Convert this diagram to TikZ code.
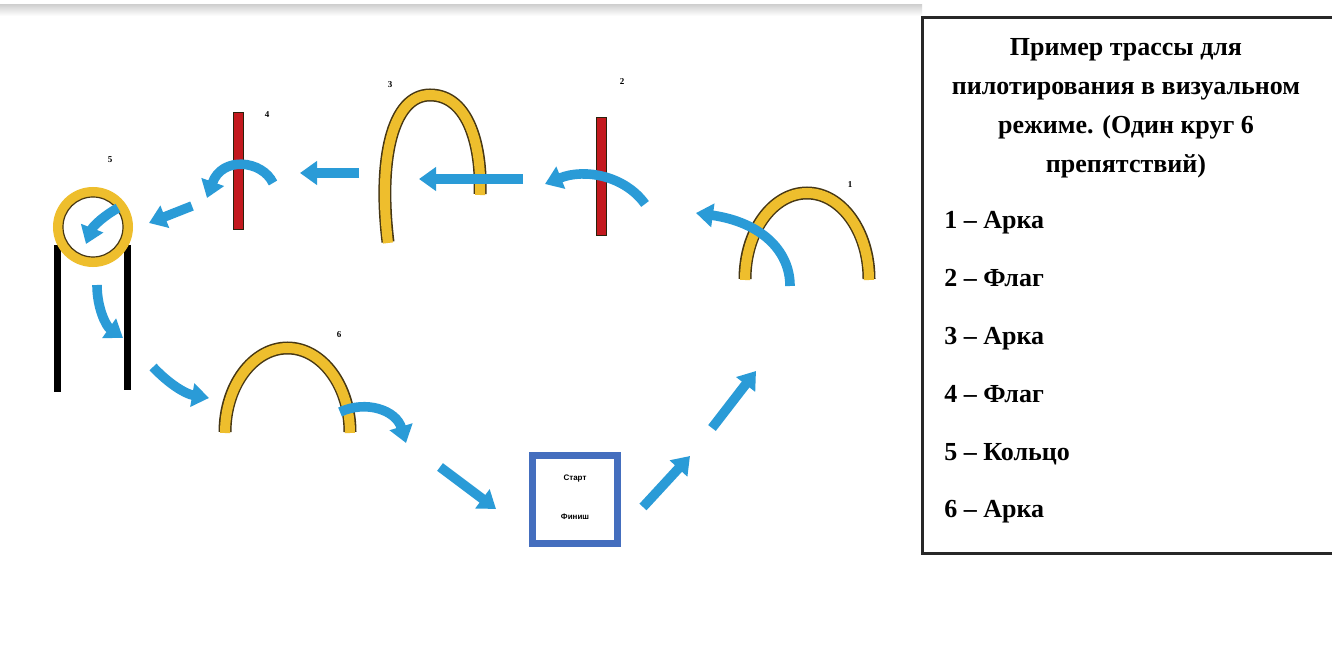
\documentclass[tikz,border=0pt]{standalone}
\usepackage{fontspec}
\setmainfont{Liberation Serif}
\newfontfamily\lsans{Liberation Sans}
\usetikzlibrary{arrows.meta}
\definecolor{arrowblue}{RGB}{42,155,215}
\definecolor{archyellow}{RGB}{238,190,45}
\definecolor{archedge}{RGB}{70,55,20}
\definecolor{flagred}{RGB}{195,25,30}
\definecolor{boxblue}{RGB}{68,110,190}
\definecolor{legendedge}{RGB}{40,40,40}
\tikzset{
  flow/.style={draw=arrowblue, line width=4.8pt, line cap=butt,
    -{Triangle[width=11.5pt,length=8.5pt]}},
  archout/.style={draw=archedge, line width=6.5pt, line cap=butt},
  archin/.style={draw=archyellow, line width=5pt, line cap=butt},
  flagbar/.style={draw=archedge!60!black, fill=flagred, line width=0.5pt},
  numlabel/.style={font=\bfseries\fontsize{4.5}{5}\selectfont, inner sep=0pt},
  legenditem/.style={anchor=base west, font=\bfseries\fontsize{13}{15}\selectfont, inner sep=0pt},
}
\begin{document}
\begin{tikzpicture}[x=0.5pt,y=-0.5pt]
\useasboundingbox (0,0) rectangle (1332,657);
\fill[white] (0,0) rectangle (1332,657);
% top band
\shade[top color=gray!35, bottom color=white] (0,5) rectangle (922,16);

% ---------- legend ----------
\draw[legendedge, line width=1.5pt] (1345,18) -- (922,18) -- (922,553) -- (1345,553);
\node[align=center, font=\bfseries\fontsize{13}{19.5}\selectfont, inner sep=0pt] (title) at (1126,108)
  {Пример трассы для\\пилотирования в визуальном\\режиме. (Один круг 6\\препятствий)};
\node[legenditem] (l1) at (944,229) {1 – Арка};
\node[legenditem] (l2) at (944,287) {2 – Флаг};
\node[legenditem] (l3) at (944,344) {3 – Арка};
\node[legenditem] (l4) at (944,402) {4 – Флаг};
\node[legenditem] (l5) at (944,460) {5 – Кольцо};
\node[legenditem] (l6) at (944,517) {6 – Арка};

% ---------- obstacle 1: arch ----------
\draw[archout] (745,279) .. controls (745,231) and (773,193) .. (807,193) .. controls (841,193) and (869,231) .. (869,279);
\draw[archin] (745,280) .. controls (745,231) and (773,193) .. (807,193) .. controls (841,193) and (869,231) .. (869,280);
\node[numlabel] (n1) at (850,185) {1};

% ---------- obstacle 2: flag ----------
\draw[flagbar] (596,118) rectangle (606,236);
\node[numlabel] (n2) at (622,82) {2};

% ---------- obstacle 3: arch ----------
\draw[archout] (388,242) .. controls (378,160) and (392,95) .. (430,95) .. controls (470,95) and (482,150) .. (480,194);
\draw[archin] (388,243) .. controls (378,160) and (392,95) .. (430,95) .. controls (470,95) and (482,150) .. (480,195);
\node[numlabel] (n3) at (390,85) {3};

% ---------- obstacle 4: flag ----------
\draw[flagbar] (233,113) rectangle (243,230);
\node[numlabel] (n4) at (267,115) {4};

% ---------- obstacle 5: ring ----------
\draw[black, line width=3.5pt] (57,245) -- (57,392);
\draw[black, line width=3.5pt] (127,245) -- (127,390);
\draw[archyellow, line width=5pt] (93,227) circle[radius=35];
\draw[archedge, line width=0.6pt] (93,227) circle[radius=30];
\node[numlabel] (n5) at (110,160) {5};

% ---------- obstacle 6: arch ----------
\draw[archout] (225,432) .. controls (225,386) and (253,348) .. (287.5,348) .. controls (322,348) and (350,386) .. (350,432);
\draw[archin] (225,433) .. controls (225,386) and (253,348) .. (287.5,348) .. controls (322,348) and (350,386) .. (350,433);
\node[numlabel] (n6) at (339,335) {6};

% ---------- start / finish ----------
\node[draw=boxblue, line width=3.5pt, minimum width=42.5pt, minimum height=44pt, inner sep=0pt] (start) at (574.5,499) {};
\node[font=\lsans\bfseries\fontsize{4}{5}\selectfont, inner sep=0pt] (st) at (575,479) {Старт};
\node[font=\lsans\bfseries\fontsize{4}{5}\selectfont, inner sep=0pt] (fi) at (575,517) {Финиш};

% ---------- route arrows ----------
\coordinate (a12s) at (643,507); \coordinate (a12e) at (690,456);
\coordinate (a13s) at (712,428); \coordinate (a13e) at (756,371);
\coordinate (a1s) at (790,286);  \coordinate (a1e) at (696,213);
\coordinate (a2s) at (645,204);  \coordinate (a2e) at (545,184);
\coordinate (a3s) at (523,179);  \coordinate (a3e) at (419,179);
\coordinate (a4s) at (359,173);  \coordinate (a4e) at (300,173);
\coordinate (a5s) at (273,183);  \coordinate (a5e) at (207,198);
\coordinate (a6s) at (192,206);  \coordinate (a6e) at (149,223);
\coordinate (a7s) at (118,208);  \coordinate (a7e) at (86,244);
\coordinate (a8s) at (97,285);   \coordinate (a8e) at (123,338);
\coordinate (a9s) at (153,367);  \coordinate (a9e) at (209,398);
\coordinate (a10s) at (340,412); \coordinate (a10e) at (406,443);
\coordinate (a11s) at (440,467); \coordinate (a11e) at (496,509);

\draw[flow] (a12s) -- (a12e);
\draw[flow] (a13s) -- (a13e);
\draw[flow] (a1s) .. controls (790,250) and (760,222) .. (a1e);
\draw[flow] (a2s) .. controls (625,176) and (585,168) .. (a2e);
\draw[flow] (a3s) -- (a3e);
\draw[flow] (a4s) -- (a4e);
\draw[flow] (a5s) .. controls (262,160) and (222,156) .. (a5e);
\draw[flow] (a6s) -- (a6e);
\draw[flow] (a7s) .. controls (105,215) and (93,226) .. (a7e);
\draw[flow] (a8s) .. controls (97,308) and (106,326) .. (a8e);
\draw[flow] (a9s) .. controls (170,385) and (186,394) .. (a9e);
\draw[flow] (a10s) .. controls (366,400) and (396,410) .. (a10e);
\draw[flow] (a11s) -- (a11e);
\end{tikzpicture}
\end{document}
